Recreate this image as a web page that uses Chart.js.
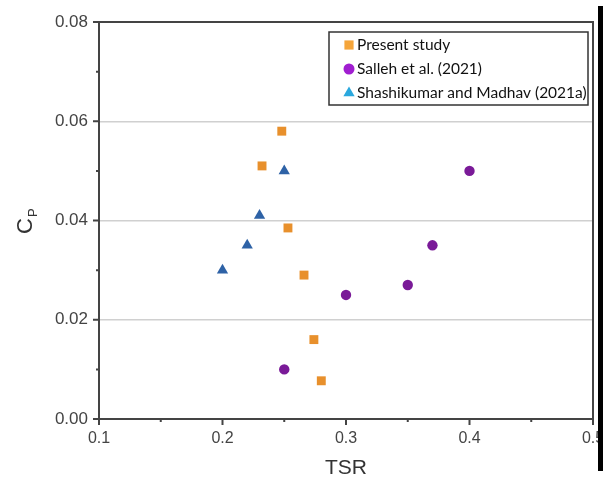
<!DOCTYPE html>
<html>
<head>
<meta charset="utf-8">
<script src="https://cdn.jsdelivr.net/npm/chart.js@4"></script>
<style>
  html, body { margin: 0; padding: 0; background: #fff; }
</style>
</head>
<body>
<canvas id="graficoCp" width="603" height="478"></canvas>
<script>
const presentTsr = [0.248, 0.232, 0.253, 0.266, 0.274, 0.280];
const presentCp = [0.058, 0.051, 0.0385, 0.029, 0.016, 0.0077];
const sallehTsr = [0.25, 0.30, 0.35, 0.37, 0.40];
const sallehCp = [0.010, 0.025, 0.027, 0.035, 0.050];
const shashiTsr = [0.20, 0.22, 0.23, 0.25];
const shashiCp = [0.030, 0.035, 0.041, 0.050];
const seriesNames = ['Present study', 'Salleh et al. (2021)', 'Shashikumar and Madhav (2021a)'];

const toPoints = (xs, ys) => xs.map((x, i) => ({ x: x, y: ys[i] }));
const isMajorX = v => Math.round(v * 100) % 10 === 0;
const isMajorY = v => Math.round(v * 1000) % 20 === 0;

// legend colours are a bit brighter than the marks in the plot
const legendItems = [
  { text: seriesNames[0], style: 'rect', color: '#f5a53a', r: 6.5 },
  { text: seriesNames[1], style: 'circle', color: '#a01ed0', r: 5.5 },
  { text: seriesNames[2], style: 'triangle', color: '#2aa8de', r: 6.5 }
];

const frame = {
  id: 'frame',
  afterDraw(chart) {
    const { ctx, chartArea: a, scales: { x, y } } = chart;
    ctx.save();
    ctx.strokeStyle = '#444';
    ctx.lineWidth = 2;
    ctx.beginPath();
    ctx.moveTo(a.left, a.top);
    ctx.lineTo(a.right, a.top);
    ctx.lineTo(a.right, a.bottom);
    ctx.stroke();

    // tick marks, long for majors, short for minors
    ctx.beginPath();
    x.ticks.forEach(t => {
      const px = x.getPixelForValue(t.value);
      ctx.moveTo(px, a.bottom);
      ctx.lineTo(px, a.bottom + (isMajorX(t.value) ? 6 : 3));
    });
    y.ticks.forEach(t => {
      const py = y.getPixelForValue(t.value);
      ctx.moveTo(a.left, py);
      ctx.lineTo(a.left - (isMajorY(t.value) ? 6 : 3), py);
    });
    ctx.stroke();

    // y axis title C_P
    ctx.translate(26, 222);
    ctx.rotate(-Math.PI / 2);
    ctx.fillStyle = '#333';
    ctx.textBaseline = 'middle';
    ctx.font = '22px "Liberation Sans"';
    const cw = ctx.measureText('C').width;
    ctx.fillText('C', -cw / 2 - 4, 0);
    ctx.font = '13px "Liberation Sans"';
    ctx.fillText('P', cw / 2 - 3, 7);
    ctx.setTransform(1, 0, 0, 1, 0, 0);

    // legend box
    const bx = 329, by = 32, bw = 259, bh = 73;
    ctx.fillStyle = '#fff';
    ctx.fillRect(bx, by, bw, bh);
    ctx.strokeStyle = '#333';
    ctx.lineWidth = 1.5;
    ctx.strokeRect(bx, by, bw, bh);
    ctx.font = '15.5px Lato';
    ctx.textBaseline = 'middle';
    legendItems.forEach((it, i) => {
      const cy = by + 13 + i * 24;
      ctx.fillStyle = it.color;
      Chart.helpers.drawPoint(ctx, { pointStyle: it.style, radius: it.r, rotation: 0, borderWidth: 0 }, bx + 20, cy);
      ctx.fillStyle = '#111';
      ctx.fillText(it.text, bx + 28, cy);
    });

    // thick black bar at the right edge of the figure
    ctx.fillStyle = '#000';
    ctx.fillRect(598, 6, 5, 465);
    ctx.restore();
  }
};

const ctx = document.getElementById('graficoCp');

new Chart(ctx, {
  type: 'scatter',
  data: {
    datasets: [
      {
        label: seriesNames[0],
        data: toPoints(presentTsr, presentCp),
        pointStyle: 'rect',
        pointRadius: 6.3,
        backgroundColor: '#e8902c',
        borderWidth: 0
      },
      {
        label: seriesNames[1],
        data: toPoints(sallehTsr, sallehCp),
        pointStyle: 'circle',
        pointRadius: 5.2,
        backgroundColor: '#7a1a98',
        borderWidth: 0
      },
      {
        label: seriesNames[2],
        data: toPoints(shashiTsr, shashiCp),
        pointStyle: 'triangle',
        pointRadius: 6.5,
        backgroundColor: '#2e62a6',
        borderWidth: 0
      }
    ]
  },
  options: {
    responsive: false,
    animation: false,
    layout: { padding: { top: 22, right: 10, left: 0, bottom: 0 }, autoPadding: false },
    plugins: {
      legend: { display: false },
      tooltip: { enabled: false }
    },
    scales: {
      x: {
        type: 'linear',
        min: 0.1,
        max: 0.5,
        ticks: {
          stepSize: 0.05,
          autoSkip: false,
          maxRotation: 0,
          padding: 10,
          color: '#444',
          font: { family: 'Liberation Sans', size: 16 },
          callback: v => isMajorX(v) ? v.toFixed(1) : ''
        },
        grid: { drawOnChartArea: false, drawTicks: false },
        border: { color: '#444', width: 2 },
        title: {
          display: true,
          text: 'TSR',
          color: '#333',
          font: { family: 'Liberation Sans', size: 21 },
          padding: { top: 0, bottom: -3 }
        },
        afterFit: s => { s.height = 59; s.paddingRight = 0; s.paddingLeft = 0; }
      },
      y: {
        type: 'linear',
        min: 0,
        max: 0.08,
        ticks: {
          stepSize: 0.01,
          autoSkip: false,
          padding: 11,
          color: '#444',
          font: { family: 'Liberation Sans', size: 17 },
          callback: v => isMajorY(v) ? v.toFixed(2) : ''
        },
        grid: {
          drawTicks: false,
          color: c => (c.tick && [20, 40, 60].includes(Math.round(c.tick.value * 1000))) ? '#d0d0d0' : 'rgba(0,0,0,0)',
          lineWidth: 1.5
        },
        border: { color: '#444', width: 2 },
        afterFit: s => { s.width = 99; s.paddingTop = 0; s.paddingBottom = 0; }
      }
    }
  },
  plugins: [frame]
});
</script>
</body>
</html>
